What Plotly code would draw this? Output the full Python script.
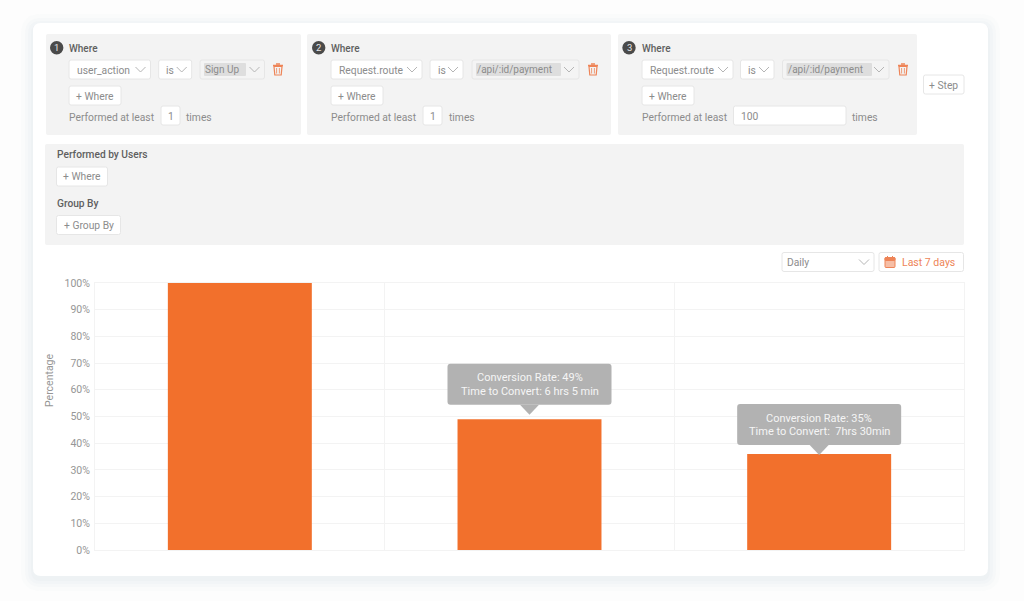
import plotly.graph_objects as go

W, H = 1024, 601
PLOT_L, PLOT_R, PLOT_T, PLOT_B = 95, 964, 283, 550

# chart data
etapas = [0, 1, 2]
conversao = [100, 49, 36]
marcas_y = [0, 10, 20, 30, 40, 50, 60, 70, 80, 90, 100]
rotulos_y = ['0%', '10%', '20%', '30%', '40%', '50%', '60%', '70%', '80%', '90%', '100%']
limites_x = [-0.5, 0.5, 1.5, 2.5]
dicas = [
    None,
    ['Conversion Rate: 49%', 'Time to Convert: 6 hrs 5 min'],
    ['Conversion Rate: 35%', 'Time to Convert:  7hrs 30min'],
]
folgas_dica = [0, 4.5, -1]

CINZA_TEXTO = '#8c8c8c'
CINZA_ESCURO = '#5f5f5f'
CINZA_EIXO = '#969696'
GRADE = '#f3f3f3'
LARANJA = '#f2702c'
LARANJA_CLARO = '#ee8457'
PAINEL = '#f3f3f3'
BORDA = '#e6e6e6'

formas = []
textos = []


# paper coordinates follow the plot area, not the page
def px(x):
    return (x - PLOT_L) / (PLOT_R - PLOT_L)


def py(y):
    return (PLOT_B - y) / (PLOT_B - PLOT_T)


def caixa(x0, y0, x1, y1, cor='white', borda=BORDA, r=2, opacidade=1):
    # rounded rectangle, in page pixels
    pts = [
        (x0 + r, y0), (x1 - r, y0), (x1, y0), (x1, y0 + r),
        (x1, y1 - r), (x1, y1), (x1 - r, y1), (x0 + r, y1),
        (x0, y1), (x0, y1 - r), (x0, y0 + r), (x0, y0), (x0 + r, y0),
    ]
    p = [(px(a), py(b)) for a, b in pts]
    caminho = 'M{0[0]},{0[1]} L{1[0]},{1[1]} Q{2[0]},{2[1]} {3[0]},{3[1]} L{4[0]},{4[1]} ' \
              'Q{5[0]},{5[1]} {6[0]},{6[1]} L{7[0]},{7[1]} Q{8[0]},{8[1]} {9[0]},{9[1]} ' \
              'L{10[0]},{10[1]} Q{11[0]},{11[1]} {12[0]},{12[1]} Z'.format(*p)
    formas.append(dict(
        type='path', path=caminho, xref='paper', yref='paper', fillcolor=cor,
        opacity=opacidade, layer='below',
        line=dict(color=borda or 'rgba(0,0,0,0)', width=1 if borda else 0),
    ))


def traco(pontos, cor, largura=1, fechar=False, preencher=None):
    caminho = 'M' + ' L'.join(f'{px(a)},{py(b)}' for a, b in pontos) + (' Z' if fechar else '')
    formas.append(dict(
        type='path', path=caminho, xref='paper', yref='paper', layer='below',
        fillcolor=preencher or 'rgba(0,0,0,0)',
        line=dict(color=cor, width=largura),
    ))


def texto(x, y, s, tam=10.3, cor=CINZA_TEXTO, ancora='left', peso=400, angulo=0):
    textos.append(dict(
        x=px(x), y=py(y), xref='paper', yref='paper', text=s, showarrow=False,
        xanchor=ancora, yanchor='middle', borderpad=0, borderwidth=0, textangle=angulo,
        font=dict(family='Roboto', size=tam, color=cor, weight=peso),
    ))


def seta(x, y):
    traco([(x - 5, y - 2.5), (x, y + 2.5), (x + 5, y - 2.5)], '#b5b5b5', 1)


def lixeira(x, y):
    traco([(x - 5, y - 4), (x + 5, y - 4)], LARANJA_CLARO, 1.5)
    traco([(x - 2, y - 5.5), (x + 2, y - 5.5)], LARANJA_CLARO, 1.5)
    traco([(x - 4, y - 3), (x - 3.2, y + 5.5), (x + 3.2, y + 5.5), (x + 4, y - 3)], LARANJA_CLARO, 1.2, True)
    traco([(x - 1.4, y - 1.5), (x - 1.4, y + 4)], LARANJA_CLARO, 0.8)
    traco([(x + 1.4, y - 1.5), (x + 1.4, y + 4)], LARANJA_CLARO, 0.8)


def selecao(x0, x1, rotulo, y0=60, y1=79):
    caixa(x0, y0, x1, y1)
    texto(x0 + 7.5, (y0 + y1) / 2 + 0.5, rotulo)
    seta(x1 - 10, (y0 + y1) / 2)


def botao(x0, x1, y0, y1, rotulo):
    caixa(x0, y0, x1, y1)
    texto((x0 + x1) / 2, (y0 + y1) / 2 + 0.5, rotulo, ancora='center')


def passo(n, x0, x1, xc, xi, campo, campo_x1, is_x0, is_x1, val_x0, val_x1, valor, mark_x1,
          lixo_x, ent_x0, ent_x1, vezes, vezes_x, centro=True):
    caixa(x0, 34, x1, 135, PAINEL, None, 2)
    formas.append(dict(
        type='circle', xref='paper', yref='paper', layer='below',
        x0=px(xc - 6.7), x1=px(xc + 6.7), y0=py(47.7 + 6.7), y1=py(47.7 - 6.7),
        fillcolor='#4a4a4a', line=dict(width=0),
    ))
    texto(xc, 47.9, str(n), 9.5, '#e8e8e8', 'center')
    texto(xi, 48, 'Where', 10, CINZA_ESCURO, peso=500)
    selecao(xi, campo_x1, campo)
    selecao(is_x0, is_x1, 'is')
    caixa(val_x0, 60, val_x1, 79, '#f4f4f4')
    caixa(val_x0 + 4, 63, mark_x1, 76, '#dedede', None, 1)
    texto(val_x0 + 5, 69.9, valor, 10)
    seta(val_x1 - 10, 69.5)
    lixeira(lixo_x, 69.5)
    botao(xi, xi + 52, 86, 105, '+ Where')
    texto(xi, 117, 'Performed at least')
    caixa(ent_x0, 106, ent_x1, 125)
    if centro:
        texto((ent_x0 + ent_x1) / 2, 116.5, vezes, ancora='center')
    else:
        texto(ent_x0 + 7, 116.5, vezes)
    texto(vezes_x, 117, 'times')


# page card, with a soft shadow
for folga, opac in ((12, 0.10), (8, 0.14), (5, 0.18), (2, 0.28)):
    caixa(33 - folga, 23 - folga + 3, 988 + folga, 576 + folga + 3, '#e6e8ee', None, 8 + folga, opac)
caixa(33, 23, 988, 576, 'white', None, 8)

passo(1, 46, 301, 56.7, 69, 'user_action', 150.5, 158.7, 191.7, 200, 264.5, 'Sign Up', 246,
      278, 161, 180, '1', 186)
passo(2, 307, 611, 318.7, 331, 'Request.route', 422, 430, 463, 472, 579, '/api/:id/payment', 561,
      593, 423, 442, '1', 449)
passo(3, 618, 917, 629, 642, 'Request.route', 733, 740.5, 774, 782.5, 889, '/api/:id/payment', 872,
      903, 733.5, 846, '100', 852, False)
botao(923.5, 964, 75, 94, '+ Step')

caixa(45, 144, 964, 245, PAINEL, None, 2)
texto(56.5, 155, 'Performed by Users', 10.2, CINZA_ESCURO, peso=500)
botao(56.5, 107.5, 167, 186, '+ Where')
texto(56.5, 203, 'Group By', 10.2, CINZA_ESCURO, peso=500)
botao(56.5, 120.5, 215.5, 234.5, '+ Group By')

selecao(782, 874, 'Daily', 252.5, 271.5)
textos[-1]['x'] = px(787)
caixa(879, 252.5, 963.5, 271.5)
caixa(885, 257.5, 895, 267.5, '#f6bea6', LARANJA_CLARO, 1)
caixa(885, 257.5, 895, 260.5, LARANJA_CLARO, LARANJA_CLARO, 1)
traco([(887.5, 256), (887.5, 258)], LARANJA_CLARO, 1)
traco([(892.5, 256), (892.5, 258)], LARANJA_CLARO, 1)
texto(902, 262.5, 'Last 7 days', 10.5, LARANJA_CLARO)

texto(49, 381, 'Percentage', 10.5, CINZA_EIXO, 'center', angulo=-90)

# tooltips sit on top of the bar they describe
LARG_PX = (PLOT_R - PLOT_L) / len(etapas)
for i, linhas in enumerate(dicas):
    if not linhas:
        continue
    xc = PLOT_L + (i + 0.5) * LARG_PX
    topo = PLOT_B - conversao[i] / 100 * (PLOT_B - PLOT_T)
    pico = topo - folgas_dica[i]
    base = pico - 10
    alto = base - 41
    caixa(xc - 82, alto, xc + 82, base, 'rgba(176,176,176,0.97)', None, 3)
    formas[-1]['layer'] = 'above'
    traco([(xc - 9.5, base), (xc, pico), (xc + 9.5, base)], 'rgba(0,0,0,0)', 0, True, 'rgba(176,176,176,0.97)')
    formas[-1]['layer'] = 'above'
    texto(xc, alto + 14.3, linhas[0], 11, '#f5f5f5', 'center')
    texto(xc, alto + 27.8, linhas[1], 11, '#f5f5f5', 'center')

fig = go.Figure(go.Bar(
    x=etapas,
    y=conversao,
    width=0.497,
    marker=dict(color=LARANJA, line=dict(width=0)),
    hoverinfo='skip',
))

fig.update_layout(
    width=W,
    height=H,
    margin=dict(l=PLOT_L, r=W - PLOT_R, t=PLOT_T, b=H - PLOT_B, pad=0),
    paper_bgcolor='#fdfdfd',
    plot_bgcolor='rgba(0,0,0,0)',
    font=dict(family='Roboto', size=11, color=CINZA_TEXTO),
    showlegend=False,
    shapes=formas,
    annotations=textos,
)

fig.update_xaxes(
    range=[-0.5, 2.5],
    tickvals=limites_x,
    showticklabels=False,
    ticks='',
    showgrid=True,
    gridcolor=GRADE,
    gridwidth=1,
    zeroline=False,
    showline=True,
    linecolor=GRADE,
    linewidth=1,
    mirror=True,
)

fig.update_yaxes(
    range=[0, 100],
    tickvals=marcas_y,
    ticktext=rotulos_y,
    ticks='',
    ticklabelstandoff=2,
    tickfont=dict(family='Roboto', size=10.5, color=CINZA_EIXO),
    showgrid=True,
    gridcolor=GRADE,
    gridwidth=1,
    zeroline=False,
    showline=True,
    linecolor=GRADE,
    linewidth=1,
    mirror=True,
)

fig.write_html(
    'out.html',
    config=dict(displayModeBar=False),
    post_script="document.body.style.margin='0';document.body.style.overflow='hidden';",
)
